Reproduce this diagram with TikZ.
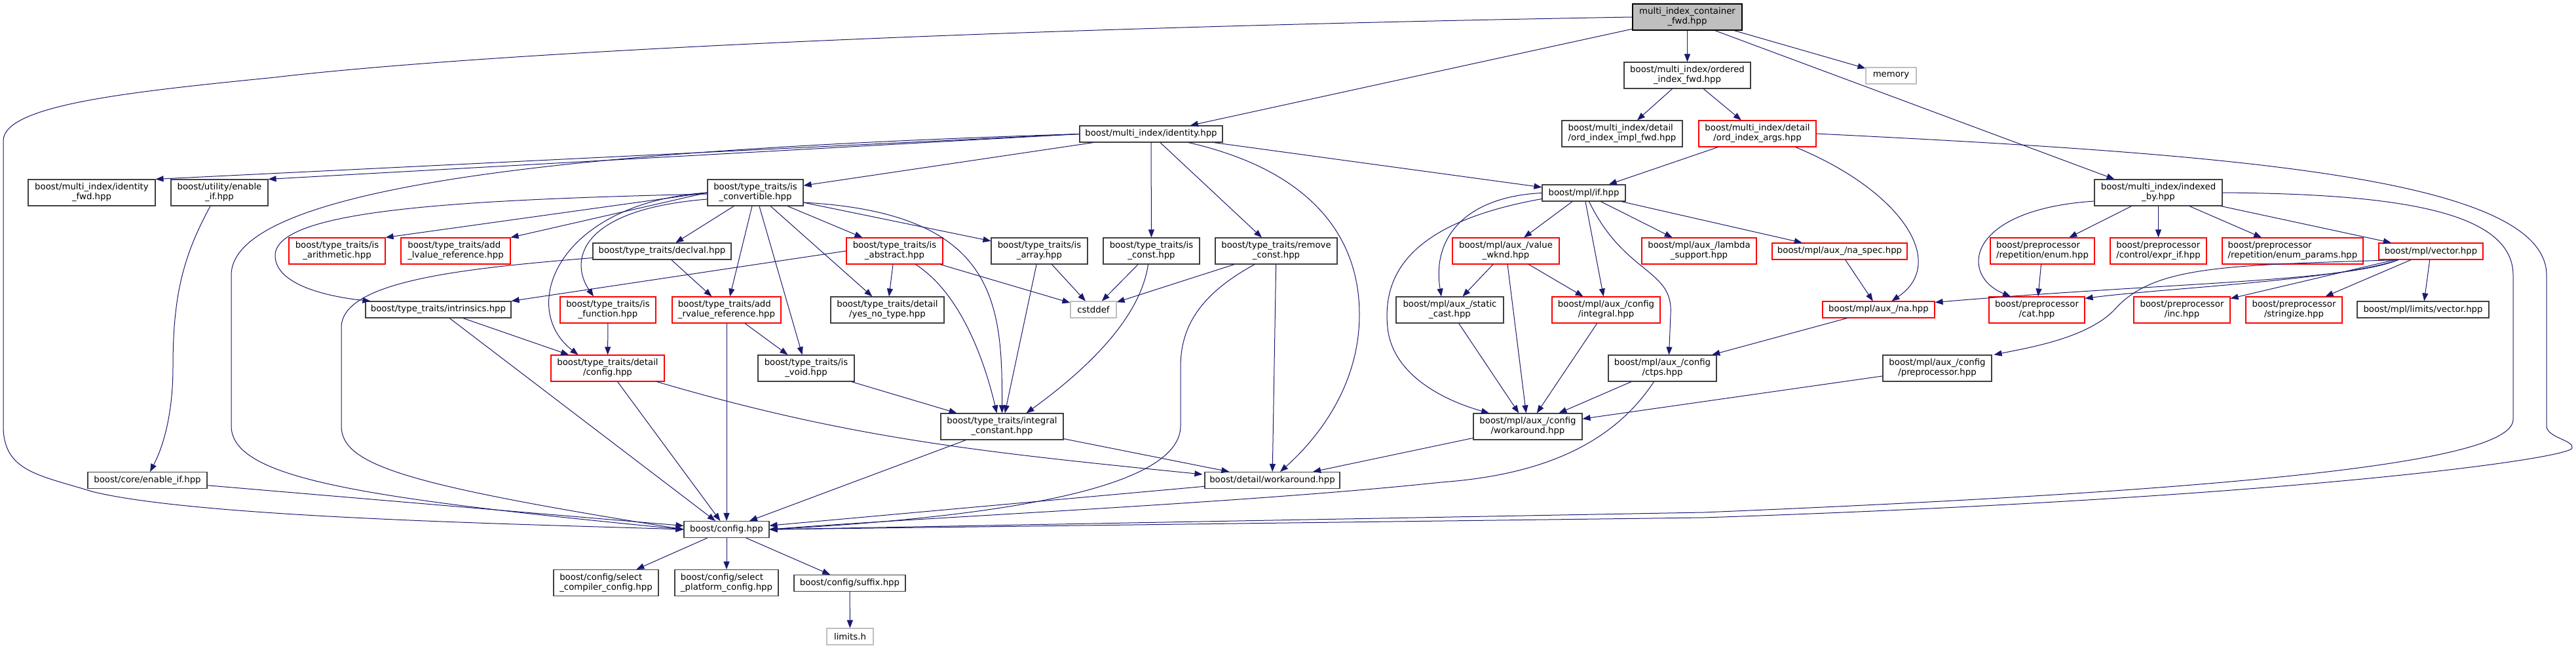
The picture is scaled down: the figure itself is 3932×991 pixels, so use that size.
\documentclass[tikz,border=0pt]{standalone}
\usepackage{fontspec}
\setmainfont{DejaVu Sans}
\usetikzlibrary{arrows.meta,calc}
\definecolor{edgeblue}{HTML}{191970}
\definecolor{grey75}{HTML}{BFBFBF}
\definecolor{grey25}{HTML}{404040}
% first line flush left, last line centred (as dot does)
\newcommand{\twolines}[2]{\begin{tabular}{@{}l@{}}#1\\\multicolumn{1}{@{}c@{}}{#2}\end{tabular}}

\begin{document}
\begin{tikzpicture}[x=1pt,y=-1pt,
box/.style={draw=grey25,line width=1.1pt,fill=white,rectangle,inner sep=0pt,
  minimum height=40pt,font=\fontsize{13.3}{15}\selectfont},
one/.style={minimum height=25pt},
trunc/.style={draw=red},
ext/.style={draw=grey75},
dep/.style={draw=edgeblue,line width=1pt,-{Triangle[length=12pt,width=9pt]}}]
\fill[white] (0,0) rectangle (3932,991);
\useasboundingbox (0,0) rectangle (3932,991);

% top rows
\node (mic) [box,fill=grey75,draw=black,minimum width=167pt] at (2575.5,26) {\twolines{multi\_index\_container}{\_fwd.hpp}};
\node (ordfwd) [box,minimum width=193pt] at (2575.5,115) {\twolines{boost/multi\_index/ordered}{\_index\_fwd.hpp}};
\node (memory) [box,one,ext,minimum width=77pt] at (2886.5,115.5) {memory};
\node (ident) [box,one,minimum width=218pt] at (1757,204.5) {boost/multi\_index/identity.hpp};
\node (implfwd) [box,minimum width=184pt] at (2476,204) {\twolines{boost/multi\_index/detail}{/ord\_index\_impl\_fwd.hpp}};
\node (ordargs) [box,trunc,minimum width=179pt] at (2682.5,204) {\twolines{boost/multi\_index/detail}{/ord\_index\_args.hpp}};
\node (idfwd) [box,minimum width=194pt] at (140,294) {\twolines{boost/multi\_index/identity}{\_fwd.hpp}};
\node (uenable) [box,minimum width=148pt] at (335,294) {\twolines{boost/utility/enable}{\_if.hpp}};
\node (isconv) [box,minimum width=146pt] at (1153,294) {\twolines{boost/type\_traits/is}{\_convertible.hpp}};
\node (mplif) [box,one,minimum width=127pt] at (2417.5,294.5) {boost/mpl/if.hpp};
\node (indexed) [box,minimum width=195pt] at (3294.5,294) {\twolines{boost/multi\_index/indexed}{\_by.hpp}};

% middle rows
\node (isarith) [box,trunc,minimum width=147pt] at (514.5,383) {\twolines{boost/type\_traits/is}{\_arithmetic.hpp}};
\node (addlref) [box,trunc,minimum width=167pt] at (695.5,383) {\twolines{boost/type\_traits/add}{\_lvalue\_reference.hpp}};
\node (declval) [box,one,minimum width=211pt] at (1010.5,383.5) {boost/type\_traits/declval.hpp};
\node (isabs) [box,trunc,minimum width=147pt] at (1365.5,383) {\twolines{boost/type\_traits/is}{\_abstract.hpp}};
\node (isarray) [box,minimum width=147pt] at (1586.5,383) {\twolines{boost/type\_traits/is}{\_array.hpp}};
\node (isconst) [box,minimum width=147pt] at (1757.5,383) {\twolines{boost/type\_traits/is}{\_const.hpp}};
\node (remconst) [box,minimum width=186pt] at (1948,383) {\twolines{boost/type\_traits/remove}{\_const.hpp}};
\node (valwknd) [box,trunc,minimum width=163pt] at (2298.5,383) {\twolines{boost/mpl/aux\_/value}{\_wknd.hpp}};
\node (lambda) [box,trunc,minimum width=175pt] at (2593.5,383) {\twolines{boost/mpl/aux\_/lambda}{\_support.hpp}};
\node (naspec) [box,one,trunc,minimum width=206pt] at (2808,383.5) {boost/mpl/aux\_/na\_spec.hpp};
\node (ppenum) [box,trunc,minimum width=159pt] at (3117.5,383) {\twolines{boost/preprocessor}{/repetition/enum.hpp}};
\node (exprif) [box,trunc,minimum width=147pt] at (3294.5,383) {\twolines{boost/preprocessor}{/control/expr\_if.hpp}};
\node (enumpar) [box,trunc,minimum width=215pt] at (3499.5,383) {\twolines{boost/preprocessor}{/repetition/enum\_params.hpp}};
\node (vector) [box,one,trunc,minimum width=159pt] at (3710.5,383.5) {boost/mpl/vector.hpp};

\node (intrins) [box,one,minimum width=222pt] at (669,472.5) {boost/type\_traits/intrinsics.hpp};
\node (isfunc) [box,trunc,minimum width=146pt] at (928,473) {\twolines{boost/type\_traits/is}{\_function.hpp}};
\node (addrref) [box,trunc,minimum width=166pt] at (1109,473) {\twolines{boost/type\_traits/add}{\_rvalue\_reference.hpp}};
\node (yesno) [box,minimum width=173pt] at (1354.5,473) {\twolines{boost/type\_traits/detail}{/yes\_no\_type.hpp}};
\node (cstddef) [box,one,ext,minimum width=70pt] at (1669,472.5) {cstddef};
\node (scast) [box,minimum width=164pt] at (2213,473) {\twolines{boost/mpl/aux\_/static}{\_cast.hpp}};
\node (cfgint) [box,trunc,minimum width=165pt] at (2451.5,473) {\twolines{boost/mpl/aux\_/config}{/integral.hpp}};
\node (na) [box,one,trunc,minimum width=171pt] at (2867.5,472.5) {boost/mpl/aux\_/na.hpp};
\node (ppcat) [box,trunc,minimum width=146pt] at (3109,473) {\twolines{boost/preprocessor}{/cat.hpp}};
\node (ppinc) [box,trunc,minimum width=147pt] at (3330.5,473) {\twolines{boost/preprocessor}{/inc.hpp}};
\node (ppstr) [box,trunc,minimum width=147pt] at (3501.5,473) {\twolines{boost/preprocessor}{/stringize.hpp}};
\node (limvec) [box,one,minimum width=201pt] at (3698.5,472.5) {boost/mpl/limits/vector.hpp};

% lower rows
\node (ttcfg) [box,trunc,minimum width=173pt] at (927.5,562) {\twolines{boost/type\_traits/detail}{/config.hpp}};
\node (isvoid) [box,minimum width=147pt] at (1230.5,562) {\twolines{boost/type\_traits/is}{\_void.hpp}};
\node (ctps) [box,minimum width=165pt] at (2537.5,562) {\twolines{boost/mpl/aux\_/config}{/ctps.hpp}};
\node (cfgpp) [box,minimum width=166pt] at (2957,562) {\twolines{boost/mpl/aux\_/config}{/preprocessor.hpp}};
\node (intconst) [box,minimum width=187pt] at (1529.5,651) {\twolines{boost/type\_traits/integral}{\_constant.hpp}};
\node (cfgwork) [box,minimum width=166pt] at (2332,651) {\twolines{boost/mpl/aux\_/config}{/workaround.hpp}};
\node (cenable) [box,one,minimum width=182pt] at (225,733) {boost/core/enable\_if.hpp};
\node (dwork) [box,one,minimum width=206pt] at (1942,733) {boost/detail/workaround.hpp};
\node (config) [box,one,minimum width=130pt] at (1109,808) {boost/config.hpp};
\node (selcomp) [box,minimum width=160pt] at (925,889.5) {\twolines{boost/config/select}{\_compiler\_config.hpp}};
\node (selplat) [box,minimum width=158pt] at (1109,889.5) {\twolines{boost/config/select}{\_platform\_config.hpp}};
\node (suffix) [box,one,minimum width=170pt] at (1297,890) {boost/config/suffix.hpp};
\node (limitsh) [box,one,ext,minimum width=71pt] at (1297.5,971.5) {limits.h};

% edges of the main header
\draw[dep] (mic) -- (ordfwd);
\draw[dep] (mic) -- (memory);
\draw[dep] (mic) -- (ident);
\draw[dep] ($(mic.south)+(42,0)$) -- ($(indexed.north)+(-67,0)$);
\draw[dep] (mic.west) .. controls (1400,45) and (700,85) .. (420,118) .. controls (200,140) and (5,160) .. (5,215) -- (5,650) .. controls (5,720) and (60,725) .. (140,750) .. controls (300,790) and (800,800) .. (config.west);

% identity.hpp
\draw[dep] (ident.west) -- (idfwd.north east);
\draw[dep] (ident.west) -- (uenable.north east);
\draw[dep] (ident.west) .. controls (1000,225) and (353,270) .. (353,420) -- (353,650) .. controls (353,730) and (550,760) .. (config.west);
\draw[dep] (ident) -- (isconv);
\draw[dep] (ident) -- (isconst);
\draw[dep] (ident) -- (remconst);
\draw[dep] (ident) -- (mplif);
\draw[dep] ($(ident.south)+(57,0)$) .. controls (2000,260) and (2075,360) .. (2075,480) .. controls (2075,590) and (2010,670) .. ($(dwork.north)+(12,0)$);

% utility / core enable_if
\draw[dep] ($(uenable.south)+(-14,0)$) .. controls (280,390) and (264,450) .. (264,560) .. controls (264,630) and (250,680) .. ($(cenable.north)+(4,0)$);
\draw[dep] (cenable) -- (config);

% is_convertible.hpp
\draw[dep] (isconv) -- (declval);
\draw[dep] (isconv) -- (addrref);
\draw[dep] (isconv) -- (isvoid);
\draw[dep] (isconv) -- (yesno);
\draw[dep] (isconv) -- (isabs);
\draw[dep] (isconv) -- (isarray);
\draw[dep] ($(isconv.east)+(0,15)$) .. controls (1520,325) and (1530,460) .. (intconst.north);
\draw[dep] ($(isconv.west)+(0,2)$) .. controls (700,305) and (420,320) .. (420,390) .. controls (420,440) and (520,455) .. ($(intrins.north west)+(8,0)$);
\draw[dep] (isconv.west) -- (isarith.north east);
\draw[dep] (isconv.west) -- (addlref.north east);
\draw[dep] ($(isconv.west)+(0,10)$) .. controls (880,320) and (870,400) .. ($(isfunc.north)+(-22,0)$);
\draw[dep] (isconv.west) .. controls (850,310) and (790,470) .. ($(ttcfg.north)+(-45,0)$);

% is_abstract, is_array, is_const, remove_const
\draw[dep] (isabs.west) -- (intrins.north east);
\draw[dep] (isabs) -- (yesno);
\draw[dep] (isabs) -- (cstddef);
\draw[dep] ($(isabs.south)+(32,0)$) .. controls (1470,450) and (1505,560) .. ($(intconst.north)+(-8,0)$);
\draw[dep] (isarray) -- (intconst);
\draw[dep] (isarray) -- (cstddef);
\draw[dep] (isconst) -- (cstddef);
\draw[dep] ($(isconst.south)+(-5,0)$) .. controls (1740,490) and (1650,570) .. ($(intconst.north)+(37,0)$);
\draw[dep] (remconst) -- (cstddef);
\draw[dep] (remconst) -- (dwork);
\draw[dep] ($(remconst.south)+(-33,0)$) .. controls (1830,450) and (1802,500) .. (1802,560) -- (1802,650) .. controls (1802,750) and (1500,790) .. (config.east);

% declval, intrinsics, add_rvalue_reference
\draw[dep] (declval) -- (addrref);
\draw[dep] ($(declval.south west)+(0,-3)$) .. controls (700,410) and (521,430) .. (521,500) -- (521,650) .. controls (521,710) and (620,740) .. (config.west);
\draw[dep] (intrins) -- (ttcfg);
\draw[dep] (intrins) -- (config);
\draw[dep] (isfunc) -- (ttcfg);
\draw[dep] (addrref) -- (config);
\draw[dep] (addrref) -- (isvoid);

% detail/config, is_void, integral_constant, workaround
\draw[dep] (ttcfg) -- (config);
\draw[dep] ($(ttcfg.south)+(75,0)$) .. controls (1300,670) and (1500,690) .. ($(dwork.north west)+(-3,4)$);
\draw[dep] (isvoid) -- (intconst);
\draw[dep] (intconst) -- (config);
\draw[dep] (intconst) -- (dwork);
\draw[dep] (dwork) -- (config);

% boost/config.hpp
\draw[dep] (config) -- (selcomp);
\draw[dep] (config) -- (selplat);
\draw[dep] (config) -- (suffix);
\draw[dep] (suffix) -- (limitsh);

% boost/mpl/if.hpp
\draw[dep] (mplif) -- (valwknd);
\draw[dep] (mplif) -- (cfgint);
\draw[dep] (mplif) -- (lambda);
\draw[dep] (mplif) -- (naspec);
\draw[dep] ($(mplif.south)+(8,0)$) .. controls (2480,420) and (2555,410) .. (2550,480) -- ($(ctps.north)+(10,0)$);
\draw[dep] (mplif.west) .. controls (2240,300) and (2185,360) .. ($(scast.north)+(-13,0)$);
\draw[dep] ($(mplif.west)+(0,9)$) .. controls (2150,340) and (2110,420) .. (2118,500) .. controls (2125,570) and (2200,610) .. ($(cfgwork.north)+(-59,0)$);
\draw[dep] (valwknd) -- (scast);
\draw[dep] (valwknd) -- (cfgwork);
\draw[dep] (valwknd) -- (cfgint);
\draw[dep] (scast) -- (cfgwork);
\draw[dep] (cfgint) -- (cfgwork);
\draw[dep] (ctps) -- (cfgwork);
\draw[dep] ($(ctps.south)+(-13,0)$) .. controls (2460,680) and (2350,725) .. (2200,736) .. controls (1900,768) and (1400,790) .. (config.east);
\draw[dep] (cfgwork) -- (dwork);
\draw[dep] (cfgpp) -- (cfgwork);

% ordered_index_fwd and ord_index_args
\draw[dep] (ordfwd) -- (implfwd);
\draw[dep] (ordfwd) -- (ordargs);
\draw[dep] (ordargs) -- (mplif);
\draw[dep] ($(ordargs.south)+(58,0)$) .. controls (2900,290) and (2975,400) .. ($(na.north)+(20,0)$);
\draw[dep] (ordargs.east) .. controls (3400,235) and (3887,270) .. (3887,420) -- (3887,650) .. controls (3887,668) and (3930,672) .. (3926,684) .. controls (3920,700) and (3500,760) .. (2600,790) -- (config.east);
\draw[dep] (naspec) -- (na);
\draw[dep] (na) -- (ctps);

% indexed_by.hpp
\draw[dep] (indexed.east) .. controls (3650,296) and (3836,320) .. (3836,420) -- (3836,640) .. controls (3836,700) and (3500,745) .. (2600,782) -- (config.east);
\draw[dep] ($(indexed.west)+(0,13)$) .. controls (3000,320) and (2990,420) .. ($(ppcat.north)+(-40,0)$);
\draw[dep] (indexed) -- (ppenum);
\draw[dep] (indexed) -- (exprif);
\draw[dep] (indexed) -- (enumpar);
\draw[dep] (indexed) -- (vector);
\draw[dep] (ppenum) -- (ppcat);

% boost/mpl/vector.hpp
\draw[dep] ($(vector.south)+(-50,0)$) .. controls (3580,430) and (3300,432) .. ($(na.north east)+(0,2)$);
\draw[dep] ($(vector.south)+(-50,0)$) .. controls (3570,428) and (3300,440) .. ($(ppcat.north east)+(0,3)$);
\draw[dep] ($(vector.south)+(-50,0)$) .. controls (3400,405) and (3290,405) .. (3230,470) .. controls (3190,515) and (3100,530) .. ($(cfgpp.north east)+(3,0)$);
\draw[dep] (vector) -- (ppinc);
\draw[dep] (vector) -- (ppstr);
\draw[dep] (vector) -- (limvec);
\end{tikzpicture}
\end{document}
